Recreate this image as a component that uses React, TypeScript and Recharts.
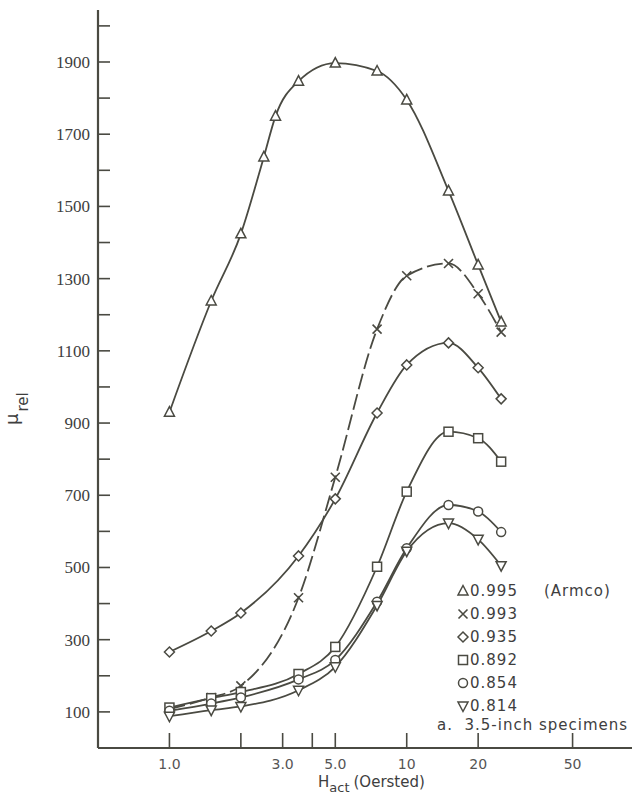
import React from 'react';
import { LineChart, Line, XAxis, YAxis } from 'recharts';

// H_act (Oersted) values
const hArmco = [1, 1.5, 2, 2.5, 2.8, 3.5, 5, 7.5, 10, 15, 20, 25];
const hOther = [1, 1.5, 2, 3.5, 5, 7.5, 10, 15, 20, 25];

// mu_rel values per specimen density ratio
const mu995 = [930, 1238, 1424, 1637, 1750, 1847, 1897, 1875, 1795, 1543, 1338, 1180];
const mu993 = [108, 140, 172, 416, 750, 1160, 1308, 1342, 1258, 1152];
const mu935 = [266, 324, 374, 532, 690, 928, 1061, 1122, 1053, 967];
const mu892 = [112, 138, 155, 205, 280, 502, 710, 876, 858, 793];
const mu854 = [103, 123, 140, 190, 244, 405, 553, 673, 655, 598];
const mu814 = [88, 105, 115, 160, 225, 395, 545, 623, 578, 505];

const seriesNames = ['0.995', '0.993', '0.935', '0.892', '0.854', '0.814'];
const seriesShapes = ['triangle', 'cross', 'diamond', 'square', 'circle', 'triangleDown'];
const seriesX = [hArmco, hOther, hOther, hOther, hOther, hOther];
const seriesY = [mu995, mu993, mu935, mu892, mu854, mu814];
const seriesDash = ['', '16 5', '', '', '', ''];

const yTicks = [100, 200, 300, 400, 500, 600, 700, 800, 900, 1000, 1100, 1200, 1300, 1400, 1500, 1600, 1700, 1800, 1900, 2000];
const yLabeled = [100, 300, 500, 700, 900, 1100, 1300, 1500, 1700, 1900];
const xTicks = [1, 2, 3, 4, 5, 10, 20, 50];
const xTickLabels: Record<number, string> = { 1: '1.0', 3: '3.0', 5: '5.0', 10: '10', 20: '20', 50: '50' };
const xDomain = [0.5, 89];

const lg = (v: number) => Math.log10(v);
const xTicksLog = xTicks.map(lg);

const INK = '#4a4a42';
const TEXT = '#3e3e3e';

function Marker({ cx, cy, shape }: { cx: number; cy: number; shape: string }) {
  const common = { fill: '#fff', stroke: INK, strokeWidth: 1.5 };
  switch (shape) {
    case 'triangle':
      return <path d={`M${cx},${cy - 5.5} L${cx + 5},${cy + 4} L${cx - 5},${cy + 4} Z`} {...common} />;
    case 'triangleDown':
      return <path d={`M${cx},${cy + 5.5} L${cx + 5},${cy - 4} L${cx - 5},${cy - 4} Z`} {...common} />;
    case 'diamond':
      return <path d={`M${cx},${cy - 5} L${cx + 5},${cy} L${cx},${cy + 5} L${cx - 5},${cy} Z`} {...common} />;
    case 'square':
      return <rect x={cx - 4.5} y={cy - 4.5} width={9} height={9} {...common} />;
    case 'circle':
      return <circle cx={cx} cy={cy} r={4.5} {...common} />;
    case 'cross':
      return (
        <path
          d={`M${cx - 4.5},${cy - 4.5} L${cx + 4.5},${cy + 4.5} M${cx - 4.5},${cy + 4.5} L${cx + 4.5},${cy - 4.5}`}
          stroke={INK}
          strokeWidth={1.6}
          fill="none"
        />
      );
    default:
      return null;
  }
}

const YTick = (props: any) => {
  const { x, y, payload } = props;
  const v = payload.value;
  return (
    <g>
      <line x1={x} x2={x + 12} y1={y} y2={y} stroke={INK} strokeWidth={1.6} />
      {yLabeled.includes(v) && (
        <text x={x - 8} y={y + 6} textAnchor="end" fontFamily="Liberation Serif" fontSize={17} fill={TEXT}>
          {v}
        </text>
      )}
    </g>
  );
};

const XTick = (props: any) => {
  const { x, y, payload } = props;
  const h = Math.round(Math.pow(10, payload.value) * 1000) / 1000;
  const lab = xTickLabels[h];
  return (
    <g>
      <line x1={x} x2={x} y1={y} y2={y - 15} stroke={INK} strokeWidth={1.6} />
      {lab && (
        <text x={x} y={y + 21} textAnchor="middle" fontFamily="DejaVu Sans" fontSize={14} fill="#555">
          {lab}
        </text>
      )}
    </g>
  );
};

const LegendBox = () => (
  <div
    style={{
      position: 'absolute',
      left: 457,
      top: 579,
      width: 180,
      fontFamily: 'DejaVu Sans',
      fontSize: 15,
      color: TEXT,
      letterSpacing: 1,
    }}
  >
    {seriesNames.map((n, i) => (
      <div key={n} style={{ display: 'flex', alignItems: 'center', height: 23 }}>
        <svg width={12} height={12} style={{ overflow: 'visible' }}>
          <Marker cx={6} cy={6} shape={seriesShapes[i]} />
        </svg>
        <span style={{ marginLeft: 1 }}>{n}</span>
        {i === 0 && <span style={{ marginLeft: 26 }}>(Armco)</span>}
      </div>
    ))}
    <div style={{ marginLeft: -20, height: 18, lineHeight: '16px', letterSpacing: 1, whiteSpace: 'nowrap' }}>
      a.&nbsp;&nbsp;3.5-inch specimens
    </div>
  </div>
);

export default function App() {
  return (
    <div style={{ position: 'absolute', left: 0, top: 0, width: 634, height: 804, background: '#fff' }}>
      <LineChart width={634} height={804} margin={{ top: 10, right: 2, bottom: 0, left: 0 }}>
        <XAxis
          type="number"
          dataKey="lh"
          scale="linear"
          domain={[lg(xDomain[0]), lg(xDomain[1])]}
          allowDataOverflow
          ticks={xTicksLog}
          tick={<XTick />}
          tickSize={0}
          tickMargin={0}
          tickLine={false}
          axisLine={{ stroke: INK, strokeWidth: 2.2 }}
          height={56}
          interval={0}
        />
        <YAxis
          type="number"
          domain={[0, 2044]}
          allowDataOverflow
          ticks={yTicks}
          tick={<YTick />}
          tickSize={0}
          tickMargin={0}
          tickLine={false}
          axisLine={{ stroke: INK, strokeWidth: 2.2 }}
          width={98}
          interval={0}
        />
        {seriesNames.map((n, i) => (
          <Line
            key={n}
            name={n}
            data={seriesX[i].map((h, j) => ({ lh: lg(h), mu: seriesY[i][j] }))}
            dataKey="mu"
            type="monotone"
            stroke={INK}
            strokeWidth={1.8}
            strokeDasharray={seriesDash[i] || undefined}
            isAnimationActive={false}
            dot={(p: any) => <Marker key={`${n}-${p.index}`} cx={p.cx} cy={p.cy} shape={seriesShapes[i]} />}
            activeDot={false}
          />
        ))}
      </LineChart>
      <LegendBox />
      <svg width={634} height={804} style={{ position: 'absolute', left: 0, top: 0, pointerEvents: 'none' }}>
        <text transform="translate(18,425) rotate(-90)" fontFamily="DejaVu Sans" fontSize={18} fill={TEXT}>
          μ<tspan dy={10} dx={2} fontSize={15}>rel</tspan>
        </text>
        <text x={318} y={787} fontFamily="DejaVu Sans" fontSize={15} fill={TEXT}>
          H<tspan dy={5} fontSize={13}>act</tspan>
          <tspan dy={-5} dx={4}>(Oersted)</tspan>
        </text>
      </svg>
    </div>
  );
}
